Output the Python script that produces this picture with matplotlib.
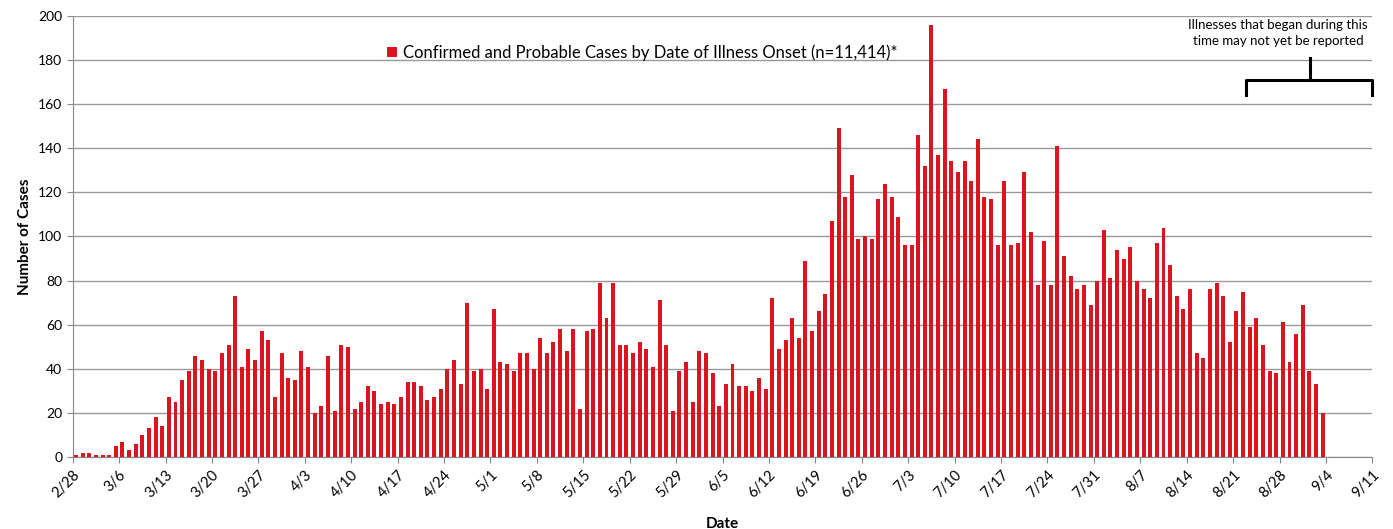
import matplotlib.pyplot as plt
import numpy as np

plt.rcParams['font.family'] = ['Lato', 'DejaVu Sans']

# daily cases starting 2/28
cases = [1, 2, 2, 1, 1, 1, 5, 7, 3, 6,
         10, 13, 18, 14, 27, 25, 35, 39, 46, 44,
         40, 39, 47, 51, 73, 41, 49, 44, 57, 53,
         27, 47, 36, 35, 48, 41, 20, 23, 46, 21,
         51, 50, 22, 25, 32, 30, 24, 25, 24, 27,
         34, 34, 32, 26, 27, 31, 40, 44, 33, 70,
         39, 40, 31, 67, 43, 42, 39, 47, 47, 40,
         54, 47, 52, 58, 48, 58, 22, 57, 58, 79,
         63, 79, 51, 51, 47, 52, 49, 41, 71, 51,
         21, 39, 43, 25, 48, 47, 38, 23, 33, 42,
         32, 32, 30, 36, 31, 72, 49, 53, 63, 54,
         89, 57, 66, 74, 107, 149, 118, 128, 99, 100,
         99, 117, 124, 118, 109, 96, 96, 146, 132, 196,
         137, 167, 134, 129, 134, 125, 144, 118, 117, 96,
         125, 96, 97, 129, 102, 78, 98, 78, 141, 91,
         82, 76, 78, 69, 80, 103, 81, 94, 90, 95,
         80, 76, 72, 97, 104, 87, 73, 67, 76, 47,
         45, 76, 79, 73, 52, 66, 75, 59, 63, 51,
         39, 38, 61, 43, 56, 69, 39, 33, 20]

tick_labels = ['2/28', '3/6', '3/13', '3/20', '3/27', '4/3', '4/10', '4/17',
               '4/24', '5/1', '5/8', '5/15', '5/22', '5/29', '6/5', '6/12',
               '6/19', '6/26', '7/3', '7/10', '7/17', '7/24', '7/31', '8/7',
               '8/14', '8/21', '8/28', '9/4', '9/11']

legend_label = 'Confirmed and Probable Cases by Date of Illness Onset (n=11,414)*'
note = 'Illnesses that began during this\ntime may not yet be reported'

fig = plt.figure(figsize=(13.93, 5.29), dpi=100)
ax = fig.add_axes([0.0522, 0.136, 0.933, 0.834])

x = np.arange(len(cases)) + 0.5
ax.bar(x, cases, width=0.6, color='#DC1420', label=legend_label, zorder=3)

ax.set_xlim(0, 7 * (len(tick_labels) - 1))
ax.set_ylim(0, 200)
ax.set_yticks(range(0, 201, 20))
ax.set_xticks(np.arange(len(tick_labels)) * 7)
ax.set_xticklabels(tick_labels, rotation=45, ha='right', rotation_mode='anchor', fontsize=10.5)
ax.tick_params(axis='y', labelsize=10, color='#888888', length=4)
ax.tick_params(axis='x', color='#888888', length=4)

ax.grid(axis='y', color='#999999', linewidth=1, zorder=0)
for s in ['top', 'right']:
    ax.spines[s].set_visible(False)
for s in ['left', 'bottom']:
    ax.spines[s].set_color('#888888')

ax.set_ylabel('Number of Cases', fontsize=11, fontweight='bold')
ax.set_xlabel('Date', fontsize=11, fontweight='bold', labelpad=12)

leg = ax.legend(loc='upper left', bbox_to_anchor=(0.23, 0.97), frameon=False,
                fontsize=12, handlelength=0.6, handleheight=0.6, handletextpad=0.4)

# note and bracket for the recent period
ax.text(181.8, 198.5, note, ha='center', va='top', fontsize=9.5, linespacing=1.35)
ax.plot([177, 177, 196, 196], [164, 171, 171, 164], color='black', lw=2.2,
        solid_joinstyle='round', clip_on=False)
ax.plot([186.6, 186.6], [171, 181], color='black', lw=2.2, clip_on=False)

plt.savefig('out.png', dpi=100)
